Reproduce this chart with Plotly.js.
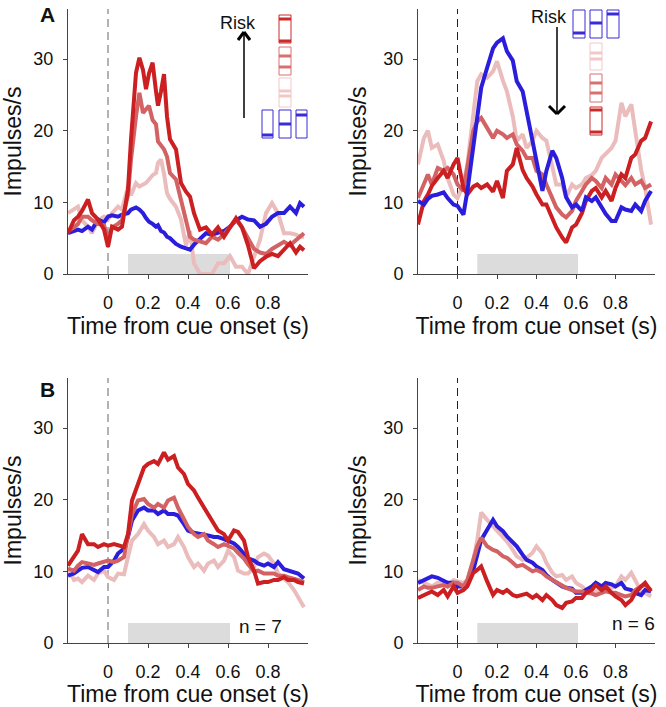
<!DOCTYPE html>
<html>
<head>
<meta charset="utf-8">
<script src="https://cdn.plot.ly/plotly-3.0.1.min.js"></script>
<style>
  html, body { margin: 0; padding: 0; background: #fff; }
  #chart { width: 666px; height: 707px; }
</style>
</head>
<body>
<div id="chart"></div>
<script>
// time bases (s from cue onset)
const tGrid = [-0.2, -0.17, -0.15, -0.13, -0.1, -0.07, -0.05, -0.02,
  0, 0.03, 0.05, 0.08, 0.1, 0.12, 0.15, 0.18, 0.2, 0.23, 0.25, 0.28,
  0.3, 0.33, 0.35, 0.38, 0.4, 0.43, 0.45, 0.48, 0.5, 0.53, 0.55, 0.58,
  0.6, 0.63, 0.65, 0.68, 0.7, 0.73, 0.75, 0.78, 0.8, 0.83, 0.85, 0.88,
  0.9, 0.93, 0.95, 0.98];
const tlTime = [-0.2, -0.17, -0.15, -0.13, -0.1, -0.08, -0.05, -0.02,
  0, 0.02, 0.05, 0.07, 0.1, 0.115, 0.14, 0.157, 0.175, 0.19, 0.205, 0.223,
  0.24, 0.25, 0.265, 0.28, 0.295, 0.31, 0.34, 0.365, 0.39, 0.41, 0.43, 0.46,
  0.49, 0.52, 0.55, 0.58, 0.61, 0.64, 0.67, 0.7, 0.73, 0.76, 0.79, 0.82,
  0.85, 0.88, 0.91, 0.94, 0.96, 0.98];

// A, left neuron (impulses/s)
const tlBlue = [5.7, 6.0, 6.2, 6.0, 6.6, 6.2, 7.6, 7.2, 8.0, 8.2, 8.0, 8.3,
  8.5, 9.0, 9.3, 9.0, 8.5, 7.8, 7.3, 7.0, 6.6, 6.8, 6.0, 5.8,
  5.2, 5.0, 4.2, 3.8, 3.6, 3.4, 4.1, 5.0, 5.7, 5.5, 5.7, 6.0,
  6.6, 7.5, 8.0, 7.6, 7.5, 6.6, 7.0, 8.0, 8.5, 8.5, 9.4, 8.5, 9.9, 9.4];
const tlPink = [8.5, 9.0, 9.4, 7.5, 6.6, 5.7, 7.5, 8.0, 7.6, 8.5, 9.4, 9.0,
  12.2, 11.0, 12.7, 12.2, 12.5, 12.7, 13.2, 13.8, 14.1, 15.5, 16.0, 14.0,
  11.3, 10.5, 9.4, 7.6, 4.0, 6.0, 1.5, 0.0, 0.0, 0.0, 1.5, 1.5,
  2.5, 1.0, 1.0, 0.0, 2.4, 4.8, 8.5, 9.9, 8.5, 5.7, 5.7, 5.5, 5.2, 5.2];
const tlMed = [6.0, 6.5, 7.0, 8.0, 8.0, 7.5, 7.0, 6.8, 5.0, 6.5, 7.0, 7.5,
  11.0, 16.0, 22.0, 25.3, 22.5, 23.0, 23.5, 21.5, 20.9, 18.5, 17.9, 17.4,
  16.4, 14.1, 13.2, 10.4, 7.6, 5.2, 4.8, 4.5, 4.3, 5.2, 4.8, 5.5,
  6.6, 7.6, 6.5, 5.0, 3.5, 3.0, 2.8, 3.5, 4.0, 4.5, 4.0, 4.8, 5.2, 5.7];
const tlDark = [5.7, 7.5, 8.0, 8.8, 10.4, 8.5, 7.6, 6.2, 3.8, 6.6, 6.2, 6.6,
  11.8, 18.8, 28.1, 30.2, 28.5, 25.8, 28.0, 29.5, 25.5, 23.5, 25.5, 27.9,
  22.0, 18.8, 17.4, 12.7, 11.5, 10.8, 8.5, 6.2, 6.5, 5.5, 6.5, 5.2,
  6.5, 7.8, 6.5, 4.0, 0.8, 1.8, 2.4, 2.8, 2.5, 3.5, 4.3, 3.0, 3.8, 3.3];

// A, right neuron
const trBlue = [10.2, 9.7, 10.5, 10.9, 11.1, 11.4, 10.6, 9.7, 9.5, 8.3, 11.6, 18.0,
  21.8, 26.0, 28.8, 31.5, 32.3, 32.9, 31.1, 29.8, 26.9, 25.5, 22.7, 18.5,
  16.2, 11.6, 14.4, 17.2, 16.2, 13.4, 10.7, 9.3, 9.7, 8.8, 10.7, 10.2,
  10.7, 9.3, 8.4, 7.4, 7.4, 9.3, 9.0, 8.8, 9.7, 8.8, 10.2, 11.6];
const trPink = [15.3, 19.0, 20.0, 17.6, 18.1, 15.8, 13.4, 11.1, 10.6, 12.5, 15.3, 22.3,
  26.9, 27.9, 27.4, 28.3, 29.7, 27.0, 25.5, 22.0, 18.6, 19.5, 17.6, 18.6,
  20.0, 19.0, 18.6, 15.0, 12.5, 12.5, 10.7, 12.5, 12.0, 12.5, 13.4, 13.8,
  14.4, 16.2, 16.7, 17.6, 18.6, 23.9, 22.0, 23.7, 20.0, 14.5, 12.0, 6.9];
const trMed = [10.6, 12.5, 13.9, 12.5, 14.8, 14.4, 14.8, 13.9, 12.5, 11.6, 15.3, 20.0,
  21.3, 21.8, 20.4, 19.0, 20.0, 19.5, 19.0, 19.5, 18.1, 17.2, 16.2, 16.2,
  14.4, 13.9, 12.5, 10.7, 9.3, 8.3, 7.9, 8.8, 10.2, 11.6, 12.5, 13.4,
  13.0, 12.0, 13.4, 12.5, 13.9, 13.0, 12.4, 13.4, 12.5, 13.0, 12.0, 12.5];
const trDark = [6.9, 10.2, 11.1, 12.3, 13.4, 14.4, 13.4, 15.3, 16.2, 12.0, 11.1, 12.2,
  12.5, 12.0, 12.5, 11.5, 13.0, 10.6, 14.4, 15.3, 17.6, 14.5, 13.4, 12.2,
  11.1, 9.7, 9.7, 7.9, 6.5, 5.1, 4.4, 6.5, 6.9, 8.5, 10.2, 11.6,
  12.0, 10.7, 11.6, 10.2, 12.0, 13.9, 13.4, 16.2, 16.7, 18.6, 19.0, 21.3];

// B, population n = 7
const blBlue = [9.4, 9.7, 10.1, 10.5, 10.6, 10.1, 9.9, 10.6, 10.6, 11.5, 12.5, 13.2,
  14.8, 17.1, 18.5, 18.9, 18.5, 18.5, 18.0, 18.5, 18.0, 18.0, 17.8, 16.6,
  15.7, 15.4, 15.3, 15.2, 15.0, 14.8, 14.8, 14.5, 14.3, 13.9, 13.4, 12.5,
  11.8, 11.5, 11.1, 10.8, 11.1, 10.6, 11.3, 10.3, 10.1, 9.9, 9.7, 9.0];
const blPink = [10.4, 8.8, 9.0, 8.5, 9.4, 8.8, 9.7, 10.1, 9.2, 8.8, 9.7, 9.6,
  12.0, 14.3, 15.2, 16.6, 15.7, 14.8, 13.8, 14.3, 13.4, 13.8, 14.8, 13.4,
  12.0, 10.6, 11.1, 10.1, 11.1, 11.5, 10.6, 11.5, 12.9, 12.0, 10.1, 9.7,
  9.7, 10.6, 12.0, 12.5, 12.2, 11.1, 9.7, 9.0, 8.5, 7.4, 6.4, 5.0];
const blMed = [10.4, 10.1, 10.8, 11.3, 11.1, 10.9, 11.1, 11.3, 11.5, 11.3, 11.5, 12.0,
  15.2, 18.0, 19.9, 20.1, 19.4, 18.9, 19.4, 18.9, 19.9, 20.3, 18.9, 17.1,
  16.2, 15.2, 14.8, 15.2, 14.3, 13.8, 13.4, 13.8, 13.6, 13.2, 12.6, 11.8,
  11.0, 10.0, 10.1, 9.7, 9.7, 9.7, 9.4, 9.4, 9.2, 9.0, 8.8, 8.5];
const blDark = [10.8, 12.0, 12.9, 15.2, 13.8, 13.8, 13.4, 13.8, 13.6, 13.8, 13.6, 13.4,
  15.2, 19.9, 22.2, 24.5, 25.0, 25.4, 25.0, 26.6, 25.6, 26.1, 24.5, 23.6,
  22.2, 21.3, 20.3, 18.9, 18.0, 16.6, 15.7, 15.2, 14.3, 15.7, 15.5, 14.3,
  12.0, 10.1, 8.3, 8.5, 8.5, 8.8, 8.8, 9.2, 8.8, 8.8, 8.5, 8.3];

// B, population n = 6
const brBlue = [8.4, 8.8, 9.0, 9.3, 9.1, 8.6, 8.4, 8.4, 7.9, 7.9, 8.4, 10.2,
  12.1, 14.4, 15.8, 17.2, 16.3, 15.6, 14.9, 14.0, 13.5, 12.3, 11.6, 11.2,
  10.7, 10.2, 9.5, 8.8, 8.4, 7.9, 7.7, 7.6, 7.0, 7.0, 7.4, 7.9,
  8.4, 7.9, 8.4, 8.2, 7.9, 8.4, 7.6, 7.4, 7.0, 6.7, 7.4, 7.2];
const brPink = [8.8, 8.4, 8.1, 7.9, 8.4, 8.4, 7.9, 8.8, 8.6, 8.4, 8.8, 11.5,
  14.4, 18.2, 17.2, 16.3, 15.8, 14.9, 14.2, 13.0, 12.1, 11.6, 11.9, 12.6,
  13.5, 12.5, 11.2, 9.8, 9.3, 9.5, 8.8, 9.3, 8.4, 7.9, 7.4, 7.2,
  7.2, 7.4, 7.9, 7.7, 7.9, 9.3, 8.8, 9.8, 8.8, 7.2, 7.0, 6.5];
const brMed = [7.4, 7.9, 7.7, 7.7, 7.9, 8.1, 7.9, 8.4, 8.4, 7.9, 8.8, 11.6,
  13.5, 14.7, 13.5, 13.0, 12.8, 12.1, 11.9, 11.2, 10.7, 10.9, 10.5, 10.0,
  10.2, 9.8, 9.3, 8.8, 8.4, 7.9, 7.7, 7.4, 7.2, 7.2, 7.0, 6.9,
  6.7, 7.0, 7.2, 7.0, 7.0, 6.7, 6.5, 6.7, 7.4, 7.9, 8.1, 7.4];
const brDark = [6.3, 6.7, 7.0, 7.2, 6.7, 7.4, 6.5, 7.9, 7.0, 7.4, 7.9, 9.8,
  10.2, 10.7, 8.6, 6.7, 7.4, 7.0, 7.4, 6.7, 6.5, 6.7, 6.9, 6.3,
  6.7, 6.0, 6.7, 6.0, 5.3, 4.9, 5.6, 5.8, 6.3, 6.3, 7.0, 7.4,
  8.1, 7.4, 7.9, 7.0, 6.5, 6.0, 5.3, 6.0, 7.0, 7.9, 8.4, 7.2];

const analysisWindow = [0.1, 0.61];
const windowHeight = 2.8;
const xTicks = [0, 0.2, 0.4, 0.6, 0.8];
const xTickText = ['0', '0.2', '0.4', '0.6', '0.8'];
const yTicks = [0, 10, 20, 30];

const BLUE = '#2b1ddc', DARK = '#cb1f22', MED = '#d26264', PINK = '#ebbcbc';
const FONT = 'Liberation Sans, Arial, Helvetica, sans-serif';

function trace(t, y, color, ax) {
    return {
        x: t, y: y, xaxis: 'x' + ax, yaxis: 'y' + ax,
        mode: 'lines', line: { color: color, width: 4 },
        showlegend: false, hoverinfo: 'skip'
    };
}

const data = [
    trace(tlTime, tlPink, PINK, ''), trace(tlTime, tlBlue, BLUE, ''),
    trace(tlTime, tlMed, MED, ''), trace(tlTime, tlDark, DARK, ''),
    trace(tGrid, trPink, PINK, '2'), trace(tGrid, trMed, MED, '2'),
    trace(tGrid, trDark, DARK, '2'), trace(tGrid, trBlue, BLUE, '2'),
    trace(tGrid, blPink, PINK, '3'), trace(tGrid, blBlue, BLUE, '3'),
    trace(tGrid, blMed, MED, '3'), trace(tGrid, blDark, DARK, '3'),
    trace(tGrid, brPink, PINK, '4'), trace(tGrid, brBlue, BLUE, '4'),
    trace(tGrid, brMed, MED, '4'), trace(tGrid, brDark, DARK, '4')
];

function xAxis(domain, anchor) {
    return {
        domain: domain, anchor: anchor, range: [-0.2, 1.0],
        tickvals: xTicks, ticktext: xTickText,
        ticks: 'outside', ticklen: 4, tickcolor: '#444',
        showline: true, linecolor: '#444', linewidth: 1,
        showgrid: false, zeroline: false, ticklabelstandoff: 8,
        tickfont: { size: 18, color: '#111' },
        title: { text: 'Time from cue onset (s)', font: { size: 23, color: '#111' }, standoff: 2 }
    };
}
function yAxis(domain, anchor) {
    return {
        domain: domain, anchor: anchor, range: [0, 37],
        tickvals: yTicks, ticks: 'outside', ticklen: 4, tickcolor: '#444',
        showline: true, linecolor: '#444', linewidth: 1,
        showgrid: false, zeroline: false, ticklabelstandoff: 6,
        tickfont: { size: 18, color: '#111' },
        title: { text: 'Impulses/s', font: { size: 23, color: '#111' }, standoff: 10 }
    };
}

const colL = [68 / 666, 308 / 666], colR = [418 / 666, 655 / 666];
const rowT = [(707 - 274) / 707, (707 - 9) / 707], rowB = [(707 - 643) / 707, (707 - 378) / 707];

// pixel -> paper helpers for the decorations
const PX = x => x / 666, PY = y => 1 - y / 707;

const shapes = [];
['', '2', '3', '4'].forEach(ax => {
    shapes.push({
        type: 'rect', xref: 'x' + ax, yref: 'y' + ax, layer: 'below',
        x0: analysisWindow[0], x1: analysisWindow[1], y0: 0, y1: windowHeight,
        fillcolor: '#dcdcdc', line: { width: 0 }
    });
    shapes.push({
        type: 'line', xref: 'x' + ax, yref: 'y' + ax, layer: 'below',
        x0: 0, x1: 0, y0: 0, y1: 37,
        line: { color: ax === '' || ax === '3' ? '#666' : '#222', width: 1, dash: '8px,5px' }
    });
});

function icon(x0, x1, y0, y1, bars, color) {
    shapes.push({
        type: 'rect', xref: 'paper', yref: 'paper',
        x0: PX(x0), x1: PX(x1), y0: PY(y1), y1: PY(y0),
        line: { color: color, width: 1 }
    });
    bars.forEach(b => shapes.push({
        type: 'line', xref: 'paper', yref: 'paper',
        x0: PX(x0), x1: PX(x1), y0: PY(b), y1: PY(b),
        line: { color: color, width: 3 }
    }));
}
function seg(x0, y0, x1, y1, w) {
    shapes.push({
        type: 'line', xref: 'paper', yref: 'paper',
        x0: PX(x0), y0: PY(y0), x1: PX(x1), y1: PY(y1),
        line: { color: '#000', width: w }
    });
}

// panel A left: risk icons + arrow pointing up
icon(279, 291, 15, 43, [19, 41], '#cc2a2a');
icon(279, 291, 47, 75, [56, 67], '#d87070');
icon(279, 291, 78, 107, [91, 96], '#f0c8c8');
icon(262, 273, 110, 138, [135], '#3a2ad8');
icon(279, 291, 110, 138, [124], '#3a2ad8');
icon(296, 307, 110, 138, [115], '#3a2ad8');
seg(244, 118, 244, 32, 1.5);
seg(238, 40, 244, 32, 3);
seg(250, 40, 244, 32, 3);

// panel A right: risk icons + arrow pointing down
icon(573, 585, 10, 38, [33], '#3a2ad8');
icon(590, 602, 10, 38, [23], '#3a2ad8');
icon(607, 619, 10, 38, [14], '#3a2ad8');
icon(590, 602, 43, 70, [53, 59], '#f0c8c8');
icon(590, 602, 74, 102, [83, 93], '#d87070');
icon(590, 602, 107, 135, [110, 132], '#cc2a2a');
seg(557, 27, 557, 113, 1.5);
seg(549, 106, 557, 114, 3);
seg(565, 106, 557, 114, 3);

const annotations = [
    { text: '<b>A</b>', x: PX(47), y: PY(15), font: { size: 21 } },
    { text: '<b>B</b>', x: PX(47), y: PY(389), font: { size: 21 } },
    { text: 'Risk', x: PX(238), y: PY(23), font: { size: 18 } },
    { text: 'Risk', x: PX(549), y: PY(17), font: { size: 18 } },
    { text: 'n = 7', x: PX(260), y: PY(626), font: { size: 19 } },
    { text: 'n = 6', x: PX(633), y: PY(623), font: { size: 19 } }
].map(a => Object.assign({ xref: 'paper', yref: 'paper', showarrow: false,
    xanchor: 'center', yanchor: 'middle' }, a, { font: Object.assign({ color: '#111', family: FONT }, a.font) }));

const layout = {
    width: 666, height: 707,
    margin: { l: 0, r: 0, t: 0, b: 0 },
    paper_bgcolor: '#fff', plot_bgcolor: 'rgba(0,0,0,0)',
    font: { family: FONT, color: '#111' },
    xaxis: xAxis(colL, 'y'), yaxis: yAxis(rowT, 'x'),
    xaxis2: xAxis(colR, 'y2'), yaxis2: yAxis(rowT, 'x2'),
    xaxis3: xAxis(colL, 'y3'), yaxis3: yAxis(rowB, 'x3'),
    xaxis4: xAxis(colR, 'y4'), yaxis4: yAxis(rowB, 'x4'),
    shapes: shapes, annotations: annotations
};

Plotly.newPlot('chart', data, layout, { displayModeBar: false, staticPlot: true });
</script>
</body>
</html>
